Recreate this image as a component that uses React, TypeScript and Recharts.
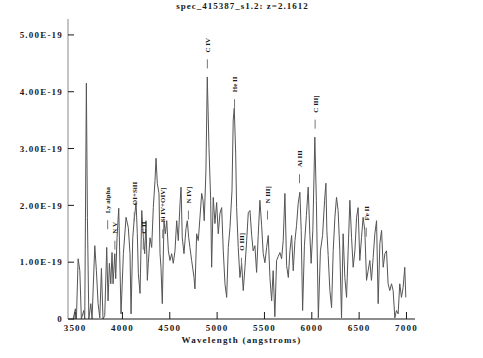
import { Line, LineChart, ReferenceDot, XAxis, YAxis } from "recharts";

// wavelength (angstroms) and flux (units of 1e-19)
const waves = [
  3479, 3503, 3514, 3532, 3550, 3566, 3592, 3602, 3619, 3630, 3645, 3666, 3679, 3708, 3725, 3743,
  3761, 3778, 3795, 3813, 3834, 3848, 3862, 3877, 3890, 3901, 3919, 3929, 3943, 3961, 3975, 3985,
  4010, 4038, 4062, 4080, 4091, 4109, 4123, 4144, 4157, 4168, 4186, 4204, 4221, 4235, 4249, 4263,
  4273, 4291, 4309, 4326, 4344, 4355, 4368, 4386, 4397, 4407, 4421, 4439, 4453, 4468, 4485, 4502,
  4520, 4537, 4555, 4573, 4590, 4608, 4619, 4632, 4650, 4671, 4685, 4700, 4713, 4731, 4756, 4766,
  4784, 4801, 4819, 4837, 4851, 4864, 4882, 4896, 4914, 4932, 4942, 4959, 4977, 4995, 5012, 5030,
  5048, 5065, 5083, 5101, 5118, 5136, 5157, 5170, 5181, 5196, 5206, 5223, 5241, 5259, 5276, 5294,
  5312, 5329, 5347, 5365, 5381, 5399, 5417, 5434, 5452, 5470, 5487, 5505, 5523, 5540, 5558, 5576,
  5592, 5610, 5628, 5645, 5663, 5681, 5698, 5716, 5734, 5752, 5769, 5787, 5804, 5822, 5839, 5856,
  5874, 5888, 5903, 5922, 5943, 5962, 5980, 5993, 6011, 6032, 6048, 6069, 6091, 6114, 6135, 6149,
  6159, 6173, 6191, 6209, 6226, 6244, 6261, 6278, 6296, 6314, 6331, 6349, 6367, 6384, 6402, 6420,
  6437, 6455, 6473, 6489, 6507, 6525, 6542, 6560, 6578, 6595, 6613, 6630, 6648, 6666, 6684, 6701,
  6719, 6737, 6754, 6772, 6789, 6806, 6824, 6842, 6859, 6877, 6894, 6912, 6929, 6947, 6964, 6982,
  6993,
];

const flux = [
  0, 0.18, 0, 1.06, 0.85, 0, 0.15, 0, 4.15, 1.79, 0, 0.27, 0, 1.29, 0.85, 0.27,
  0.02, 0.89, 0, 0.06, 1.26, 0.32, 0.98, 0.62, 1.17, 0.62, 1.15, 0.71, 1.43, 1.95, 0.85, 0.09,
  1.15, 1.79, 1.61, 1.15, 0.09, 1.43, 1.73, 2.05, 1.5, 0.8, 0.45, 1.91, 1.43, 1.15, 1.73, 0.68,
  0.98, 1.43, 1.26, 1.96, 2.44, 2.83, 2.39, 2.21, 1.15, 0.91, 0.27, 1.73, 1.5, 1.73, 1.2, 1.03,
  1.15, 0.98, 1.2, 1.73, 1.38, 2.03, 2.32, 1.43, 1.15, 1.59, 1.73, 1.43, 1.26, 1.03, 0.73, 0.53,
  1.5, 1.38, 1.79, 2.21, 2.09, 1.73, 2.62, 4.26, 3.02, 2.09, 0.91, 2.14, 1.68, 2.05, 1.5, 1.86,
  1.96, 1.2, 0.62, 0.38, 1.26, 1.61, 2.26, 3.5, 3.71, 2.92, 1.96, 1.26, 0.73, 0.98, 0.5, 0.91,
  1.38, 1.87, 1.91, 1.47, 1.2, 1.29, 0.82, 1.47, 2.09, 1.65, 1.15, 0.99, 1.26, 1.47, 0.73, 0.32,
  0.85, 0.04, 1.03, 1.1, 1.17, 1.06, 1.38, 2.21, 0.94, 0.73, 1.2, 1.47, 0.85, 1.38, 1.65, 2.03,
  2.23, 1.56, 0.15, 1.29, 1.82, 2.32, 1.47, 0.98, 1.56, 3.2, 2.09, 0.02, 1.2, 1.47, 2.09, 2.39,
  1.56, 1.12, 0.5, 0.2, 1.2, 1.79, 2.14, 1.91, 1.2, 0.02, 1.5, 0.73, 0.38, 1.2, 2.09, 1.43,
  0.91, 1.2, 1.79, 1.96, 1.03, 1.43, 1.79, 1.56, 0.68, 0.85, 1.03, 0.68, 1.08, 1.5, 1.73, 0.27,
  1.33, 1.56, 0.91, 1.15, 1.2, 0.62, 0.5, 0.62, 0.5, 0.02, 0.15, 0.09, 0.62, 0.38, 0.55, 0.91,
  0.38,
];

const xTicks = [3500, 4000, 4500, 5000, 5500, 6000, 6500, 7000];
const yTicks = [0, 1, 2, 3, 4, 5];

// emission line ids: observed wavelength and flux level of the marker
const lineNames = [
  "Ly alpha", "N V", "OI+SiII", "C II", "Si IV+OIV]", "N IV]", "C IV",
  "He II", "O III]", "N III]", "Al III", "C III]", "Fe II",
];
const lineWaves = [3844, 3920, 4125, 4220, 4426, 4697, 4897, 5184, 5257, 5532, 5870, 6035, 6575];
const lineLevels = [1.58, 1.22, 1.72, 1.22, 1.42, 1.75, 4.41, 3.71, 0.92, 1.75, 2.39, 3.35, 1.45];

const rows = waves.map((w, i) => ({ wave: w, flux: flux[i] }));

const font = '"Liberation Serif", "Times New Roman", serif';
const ink = "#1a1a1a";
const labelStyle = { fontFamily: font, fontWeight: 700, fontSize: 9, letterSpacing: 1.2, fill: ink };

const fmtY = (v: number) => (v === 0 ? "0" : `${v.toFixed(2)}E-19`);

function LeftTick({ x, y, payload }: any) {
  return (
    <g>
      <line x1={x} x2={x + 6} y1={y} y2={y} stroke={ink} />
      <text x={x - 5} y={y} dy="0.35em" textAnchor="end" {...labelStyle}>
        {fmtY(payload.value)}
      </text>
    </g>
  );
}

function RightTick({ x, y }: any) {
  return <line x1={x} x2={x - 7} y1={y} y2={y} stroke={ink} />;
}

function BottomTick({ x, y, payload }: any) {
  return (
    <g>
      <line x1={x} x2={x} y1={y} y2={y - 7} stroke={ink} />
      <text x={x} y={y + 12} textAnchor="middle" {...labelStyle}>
        {payload.value}
      </text>
    </g>
  );
}

function TopTick({ x, y }: any) {
  return <line x1={x} x2={x} y1={y} y2={y + 6} stroke={ink} />;
}

function Marker({ cx, cy, name }: any) {
  return (
    <g>
      <line x1={cx} x2={cx} y1={cy} y2={cy - 9} stroke="#777" />
      <text
        transform={`translate(${cx},${cy - 16}) rotate(-90)`}
        dy="0.35em"
        textAnchor="start"
        fontFamily={font}
        fontWeight={700}
        fontSize={7}
        fill={ink}
      >
        {name}
      </text>
    </g>
  );
}

export default function App() {
  return (
    <div style={{ position: "absolute", left: 0, top: 0, width: 483, height: 358, background: "#fff" }}>
      <div
        style={{
          position: "absolute",
          left: 0,
          width: 483,
          top: 1,
          textAlign: "center",
          fontFamily: font,
          fontWeight: 700,
          fontSize: 9,
          letterSpacing: 1,
          color: ink,
          paddingLeft: 1,
        }}
      >
        spec_415387_s1.2: z=2.1612
      </div>
      <LineChart width={483} height={358} data={rows} margin={{ top: 19, right: 68, bottom: 0, left: 0 }}>
        <XAxis
          xAxisId="b"
          dataKey="wave"
          type="number"
          domain={[3425, 7090]}
          allowDataOverflow
          ticks={xTicks}
          height={39}
          tickSize={0}
          tickMargin={0}
          tickLine={false}
          tick={<BottomTick />}
          axisLine={{ stroke: ink }}
          label={{
            value: "Wavelength (angstroms)",
            position: "insideBottom",
            offset: 15,
            ...labelStyle,
          }}
        />
        <XAxis
          xAxisId="t"
          orientation="top"
          type="number"
          domain={[3425, 7090]}
          allowDataOverflow
          ticks={xTicks}
          height={0}
          tickSize={0}
          tickMargin={0}
          tickLine={false}
          tick={<TopTick />}
          axisLine={{ stroke: ink }}
        />
        <YAxis
          yAxisId="l"
          type="number"
          domain={[0, 5.28]}
          allowDataOverflow
          ticks={yTicks}
          width={68}
          tickSize={0}
          tickMargin={0}
          tickLine={false}
          tick={<LeftTick />}
          axisLine={{ stroke: "#888" }}
        />
        <YAxis
          yAxisId="r"
          orientation="right"
          type="number"
          domain={[0, 5.28]}
          allowDataOverflow
          ticks={yTicks}
          width={0}
          tickSize={0}
          tickMargin={0}
          tickLine={false}
          tick={<RightTick />}
          axisLine={{ stroke: ink }}
        />
        <Line
          xAxisId="b"
          yAxisId="l"
          type="linear"
          dataKey="flux"
          stroke="#555"
          strokeWidth={1}
          dot={false}
          isAnimationActive={false}
        />
        {lineNames.map((name, i) => (
          <ReferenceDot
            key={name}
            xAxisId="b"
            yAxisId="l"
            x={lineWaves[i]}
            y={lineLevels[i]}
            r={0}
            shape={(p: any) => <Marker cx={p.cx} cy={p.cy} name={name} />}
          />
        ))}
      </LineChart>
    </div>
  );
}
